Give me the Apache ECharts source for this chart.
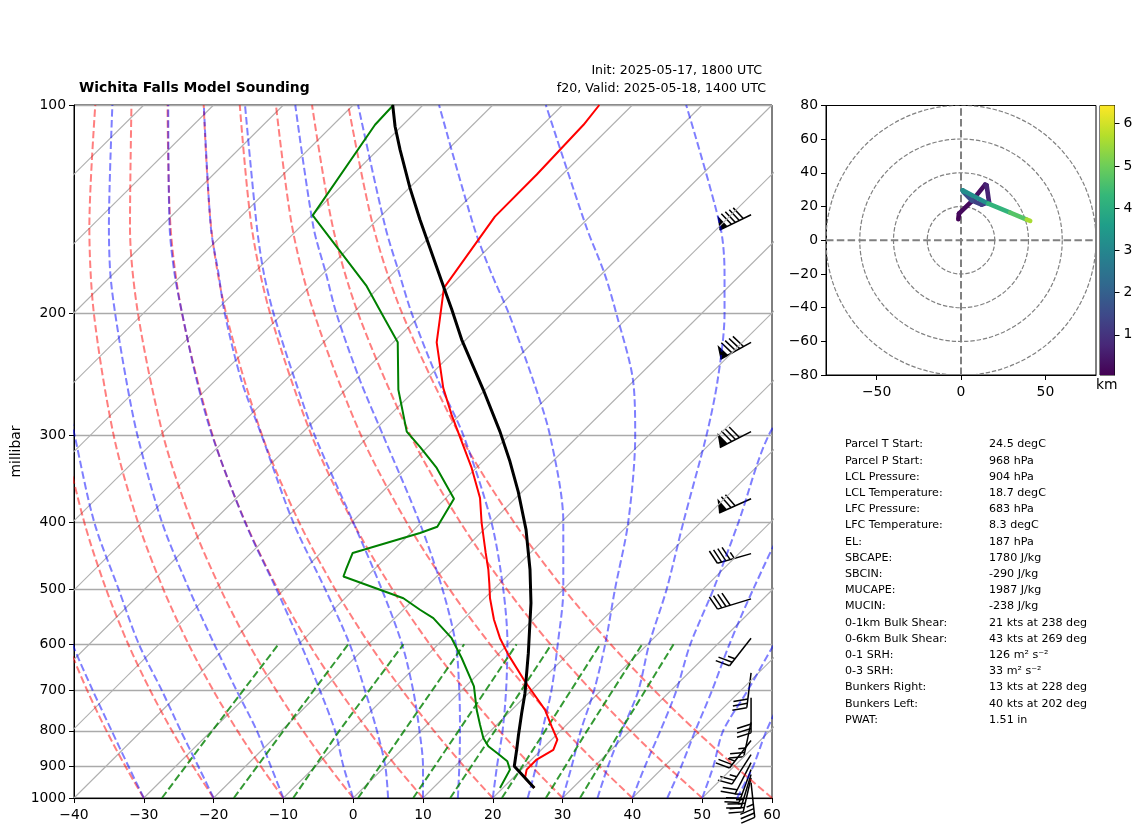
<!DOCTYPE html>
<html>
<head>
<meta charset="utf-8">
<style>html,body{margin:0;padding:0;background:#fff}#chart{width:1142px;height:838px}</style>
<script src="https://cdn.jsdelivr.net/npm/echarts@6/dist/echarts.min.js"></script>
</head>
<body>
<div id="chart"></div>
<script>
// axis ticks
const pressureTicks = [100, 200, 300, 400, 500, 600, 700, 800, 900, 1000];
const isotherms = [-130, -120, -110, -100, -90, -80, -70, -60, -50, -40, -30, -20, -10, 0, 10, 20, 30, 40, 50];

// guide curves, x position on the skewed axis at each level
const dryLevels = [1000, 900, 800, 700, 600, 500, 400, 300, 200, 150, 100];
const dryAdiabats = [
  [-30, -32.64, -35.34, -38.09, -40.87, -43.59, -46.23, -48.49, -49.77, -49.42, -47.3],
  [-20, -22.94, -25.96, -29.06, -32.23, -35.39, -38.53, -41.4, -43.46, -43.61, -42.12],
  [-10, -13.24, -16.58, -20.03, -23.59, -27.19, -30.84, -34.31, -37.15, -37.8, -36.95],
  [0, -3.53, -7.19, -11, -14.95, -18.98, -23.14, -27.22, -30.83, -31.98, -31.77],
  [10, 6.17, 2.19, -1.97, -6.31, -10.78, -15.45, -20.13, -24.52, -26.17, -26.6],
  [20, 15.87, 11.57, 7.06, 2.33, -2.58, -7.75, -13.04, -18.21, -20.36, -21.42],
  [30, 25.58, 20.95, 16.09, 10.97, 5.62, -0.05, -5.95, -11.9, -14.55, -16.25],
  [40, 35.28, 30.34, 25.12, 19.61, 13.82, 7.64, 1.14, -5.59, -8.74, -11.07],
  [50, 44.98, 39.72, 34.15, 28.25, 22.03, 15.34, 8.23, 0.72, -2.92, -5.9],
  [60, 54.69, 49.1, 43.18, 36.89, 30.23, 23.04, 15.32, 7.03, 2.89, -0.72]
];
const moistLevels = [1000, 900, 800, 700, 600, 500, 400, 300, 250, 200, 175, 150, 100];
const moistAdiabats = [
  [-30, -32.2, -34.6, -37.3, -40.2, -43],
  [-20, -22.2, -24.7, -27.4, -30.7, -33.6, -37.1, -39.9, -41.5, -43],
  [-10, -11.8, -13.8, -16.7, -19.9, -23.5, -27.4, -30.9, -32.5, -34.1, -34.8, -35, -34.5],
  [0, -1.4, -2.6, -4.75, -7.5, -11, -15.5, -20.2, -22.4, -24.5, -25.6, -26.3, -26.5],
  [5, 4.6, 3.4, 1.7, -0.5, -4, -8.6, -13.1, -16, -18.4, -19.3, -20.4, -21.4],
  [10, 10, 9.5, 8.6, 7, 4.1, 0, -5.5, -8.3, -11.4, -12.8, -13.8, -15.5],
  [15, 15.2, 15.3, 15.2, 14.7, 12.8, 9.5, 4.3, 1, -2.4, -3.9, -5.7, -8.3],
  [20, 20.6, 21.4, 21.9, 22.1, 21.5, 19.8, 15.8, 12.2, 8.4, 6.6, 4.6, 0.7],
  [25, 26.2, 27.1, 28.4, 29.3, 30.1, 30.1, 28.2, 25.8, 22.3, 19.8, 17.3, 12.3],
  [30, 31.3, 32.6, 34.5, 36.1, 37.5, 39.4, 40.4, 40.1, 37.7, 36, 33.4, 27.6],
  [35, 36.5, 38.5, 40.85, 42.4, 44.9, 47.3, 50.6, 52.2, 53.2, 53.2, 52.6, 47.7],
  [40, 41.8, 44, 46.3, 48.3, 51.6, 55.2, 59.5, 65],
  [45, 47, 49, 51.4, 53.9, 57.3, 62, 70],
  [50, 51.6, 53, 56.5, 60.3, 65],
  [55, 57.3, 59.2, 62, 66]
];
const mixLevels = [1000, 800, 600];
const mixingLines = [
  [-27.4, -20.2, -10.7],
  [-17.1, -10, -0.7],
  [-8.6, -2, 7.2],
  [0.7, 7.3, 15.9],
  [8.6, 15.1, 23.4],
  [13.9, 20.3, 28.4],
  [21.3, 27.5, 35.4],
  [27.6, 33.5, 41.4],
  [32.5, 38.3, 45.9]
];

// sounding, skewed x and pressure
const tempX = [25.95, 24.61, 24.85, 26.28, 28.67, 29.25, 28.43, 27.48, 25.81, 24.61, 22.22, 21.03, 20.17, 19.6, 19.5, 19.36, 18.98, 18.4, 18.17, 16.97, 15.06, 14.1, 12.9, 11.96, 12.4, 13, 20.3, 26.3, 33, 35.26];
const tempP = [967, 936, 910, 880, 852, 824, 788, 746, 706, 679, 621, 588, 553, 515, 490, 468, 443, 401, 369, 334, 297, 280, 256, 220, 204, 183.6, 144.9, 126, 106.8, 100];
const dewX = [21.03, 22.46, 22.08, 20.79, 19.36, 18.64, 18.17, 17.69, 17.3, 15.54, 14.1, 11.48, 9.57, 7.19, -1.4, -1.03, -0.07, 9.57, 12.05, 14.44, 11.96, 9.57, 7.67, 6.47, 6.38, 4.56, 1.93, -5.8, 3.13, 5.76];
const dewP = [967, 910, 885, 864, 842, 819, 784, 746, 690, 628, 588, 550, 535, 515, 479, 468, 443, 414.6, 406, 370, 334, 311.5, 296, 257.6, 220, 204, 182.6, 144.3, 106.8, 100];
const parcelX = [25.95, 23.08, 23.42, 23.66, 24.14, 24.61, 25.09, 25.47, 25.33, 24.76, 23.66, 22.46, 21.03, 18.64, 15.54, 14.1, 13, 9.57, 8.14, 6.71, 6, 5.66];
const parcelP = [967, 900, 852, 814, 754, 706, 618, 523, 468, 410, 362, 327, 296, 257.6, 218, 197, 183.6, 146.4, 131.8, 116, 107.4, 100];

// wind barbs
const barbP = [144, 220, 296, 370, 444, 516, 588, 660, 717, 778, 826, 866, 889, 910, 925, 935, 950];
const barbSpeed = [90, 90, 80, 70, 45, 40, 25, 30, 30, 25, 25, 25, 20, 25, 25, 25, 35];
const barbDir = [244, 241, 243, 246, 254, 253, 218, 187, 180, 192, 218, 213, 207, 200, 197, 193, 174];

// hodograph
const hodoU = [-1.6, -1.2, 6.3, 14.3, 15.2, 16.6, 12.3, 6.3, 1.4, 1, 16.2, 29.1, 39, 41];
const hodoV = [12.5, 15.8, 23.1, 33, 32.6, 22.7, 21.1, 23.7, 28.7, 29.6, 21.7, 16.4, 12.3, 11.5];
const hodoH = [0.1, 0.2, 0.3, 0.6, 0.7, 1, 1.3, 1.6, 2.6, 3.2, 4.2, 4.7, 5.6, 6.3];
const hodoRings = [20, 40, 60, 80];
const hodoXTicks = [-50, 0, 50];
const hodoYTicks = [-80, -60, -40, -20, 0, 20, 40, 60, 80];
const cbarTicks = [1, 2, 3, 4, 5, 6];

// text block
const statLabels = ['Parcel T Start:', 'Parcel P Start:', 'LCL Pressure:', 'LCL Temperature:', 'LFC Pressure:', 'LFC Temperature:', 'EL:', 'SBCAPE:', 'SBCIN:', 'MUCAPE:', 'MUCIN:', '0-1km Bulk Shear:', '0-6km Bulk Shear:', '0-1 SRH:', '0-3 SRH:', 'Bunkers Right:', 'Bunkers Left:', 'PWAT:'];
const statValues = ['24.5 degC', '968 hPa', '904 hPa', '18.7 degC', '683 hPa', '8.3 degC', '187 hPa', '1780 J/kg', '-290 J/kg', '1987 J/kg', '-238 J/kg', '21 kts at 238 deg', '43 kts at 269 deg', '126 m² s⁻²', '33 m² s⁻²', '13 kts at 228 deg', '40 kts at 202 deg', '1.51 in'];

const viridis = ['#440154', '#482878', '#3e4989', '#31688e', '#26828e', '#1f9e89', '#35b779', '#6ece58', '#b5de2b', '#fde725'];
const FONT = 'DejaVu Sans';
const minus = v => String(v).replace('-', '\u2212');

const chart = echarts.init(document.getElementById('chart'));

function lineSeries(data, color, width, dash, extra) {
  return Object.assign({
    type: 'line', xAxisIndex: 0, yAxisIndex: 0, data: data, showSymbol: false, symbol: 'none',
    silent: true, animation: false, clip: true,
    lineStyle: { color: color, width: width, type: dash || 'solid', cap: 'butt' }
  }, extra || {});
}

// barb shape follows the matplotlib proportions
function renderBarb(params, api) {
  const tip = api.coord([api.value(0), api.value(1)]);
  const speed = Math.round(api.value(2) / 5) * 5;
  const rad = api.value(3) * Math.PI / 180;
  const sx = Math.sin(rad), sy = -Math.cos(rad);
  const nx = -sy, ny = sx;
  const L = 35, h = 14, w = 8.75, gap = 4.4;
  const at = (t, o) => [tip[0] + t * sx + o * nx, tip[1] + t * sy + o * ny];
  const seg = (a, b, lw) => ({ type: 'line', shape: { x1: a[0], y1: a[1], x2: b[0], y2: b[1] }, style: { stroke: '#000', lineWidth: lw, fill: null } });
  const kids = [seg(at(0, 0), at(L, 0), 1.5)];
  let t = L;
  const flags = Math.floor(speed / 50);
  const fulls = Math.floor((speed - flags * 50) / 10);
  const half = (speed - flags * 50 - fulls * 10) >= 5;
  for (let i = 0; i < flags; i++) {
    kids.push({ type: 'polygon', shape: { points: [at(t, 0), at(t - w / 2, h), at(t - w, 0)] }, style: { fill: '#000' } });
    t -= w + gap;
  }
  for (let i = 0; i < fulls; i++) {
    kids.push(seg(at(t, 0), at(t + w / 2, h), 1.5));
    t -= gap;
  }
  if (half) kids.push(seg(at(t, 0), at(t + w / 4, h / 2), 1.5));
  return { type: 'group', children: kids };
}

const series = [];

// isobars come from the axis split lines, isotherms here
isotherms.forEach(T => series.push(lineSeries([[T, 1000], [T + 100, 100]], '#b0b0b0', 1.1)));

series.push({
  type: 'custom', xAxisIndex: 0, yAxisIndex: 0, silent: true, animation: false,
  data: barbP.map((p, i) => [57, p, barbSpeed[i], barbDir[i]]),
  encode: { x: 0, y: 1 }, renderItem: renderBarb, clip: false, z: 3
});

const DASH = [7.5, 3.3];
dryAdiabats.forEach(c => series.push(lineSeries(c.map((x, i) => [x, dryLevels[i]]), 'rgba(255,0,0,0.5)', 2, DASH, { smooth: 0.3 })));
moistAdiabats.forEach(c => series.push(lineSeries(c.map((x, i) => [x, moistLevels[i]]), 'rgba(0,0,255,0.5)', 2, DASH, { smooth: 0.3 })));
mixingLines.forEach(c => series.push(lineSeries(c.map((x, i) => [x, mixLevels[i]]), 'rgba(0,128,0,0.8)', 2, DASH)));

series.push(lineSeries(tempX.map((x, i) => [x, tempP[i]]), '#ff0000', 2));
series.push(lineSeries(dewX.map((x, i) => [x, dewP[i]]), '#008000', 2));
series.push(lineSeries(parcelX.map((x, i) => [x, parcelP[i]]), '#000000', 3));

// hodograph
hodoRings.forEach(r => series.push({
  type: 'custom', xAxisIndex: 1, yAxisIndex: 1, silent: true, animation: false, clip: true,
  data: [[0, 0, r]], encode: { x: 0, y: 1 },
  renderItem: (params, api) => {
    const c = api.coord([0, 0]);
    const rx = api.size([api.value(2), 0])[0];
    return { type: 'circle', shape: { cx: c[0], cy: c[1], r: rx }, style: { fill: null, stroke: '#808080', lineWidth: 1.2, lineDash: [4.4, 1.9] } };
  }
}));
series.push({ type: 'line', xAxisIndex: 1, yAxisIndex: 1, data: [[-80, 0], [80, 0]], showSymbol: false, symbol: 'none', silent: true, animation: false, lineStyle: { color: '#808080', width: 2, type: DASH } });
series.push({ type: 'line', xAxisIndex: 1, yAxisIndex: 1, data: [[0, -80], [0, 80]], showSymbol: false, symbol: 'none', silent: true, animation: false, lineStyle: { color: '#808080', width: 2, type: DASH } });

const hodoSeriesIndex = series.length;
series.push({
  type: 'custom', xAxisIndex: 1, yAxisIndex: 1, silent: true, animation: false, clip: true, z: 4,
  data: hodoU.map((u, i) => [u, hodoV[i], hodoH[i]]), encode: { x: 0, y: 1 },
  renderItem: (params, api) => {
    const i = params.dataIndex;
    if (i >= hodoU.length - 1) return null;
    const a = api.coord([hodoU[i], hodoV[i]]);
    const b = api.coord([hodoU[i + 1], hodoV[i + 1]]);
    return { type: 'line', shape: { x1: a[0], y1: a[1], x2: b[0], y2: b[1] }, style: { stroke: api.visual('color'), lineWidth: 4.6, lineCap: 'round', fill: null } };
  }
});

// colorbar
series.push({
  type: 'custom', xAxisIndex: 2, yAxisIndex: 2, silent: true, animation: false,
  data: [[0.5, 1]], encode: { x: 0, y: 1 },
  renderItem: params => {
    const g = params.coordSys;
    const stops = viridis.map((c, i) => ({ offset: i / (viridis.length - 1), color: c }));
    return { type: 'rect', shape: { x: g.x, y: g.y, width: g.width, height: g.height }, style: { fill: new echarts.graphic.LinearGradient(0, 1, 0, 0, stops) } };
  }
});

const tickLabel = { color: '#000', fontFamily: FONT, fontSize: 13.9 };
const yTickLabel = Object.assign({ padding: [3, 0, 0, 0] }, tickLabel);
const blackLine = { show: true, onZero: false, lineStyle: { color: '#000', width: 1 } };
const blackTick = { show: true, length: 5, lineStyle: { color: '#000', width: 1 } };

const statText = [];
statLabels.forEach((s, i) => {
  const y = 444 + 16.2 * i;
  statText.push({ type: 'text', left: 845, top: y - 5, style: { text: s, fill: '#000', font: '11.1px "DejaVu Sans"' } });
  statText.push({ type: 'text', left: 989, top: y - 5, style: { text: statValues[i], fill: '#000', font: '11.1px "DejaVu Sans"' } });
});

chart.setOption({
  animation: false,
  backgroundColor: '#fff',
  grid: [
    { left: 74, top: 105, width: 698, height: 693, show: true, borderColor: '#000', borderWidth: 1, backgroundColor: 'transparent', outerBoundsMode: 'none' },
    { left: 826, top: 105.5, width: 270, height: 269.5, show: true, borderColor: '#000', borderWidth: 1, backgroundColor: 'transparent', outerBoundsMode: 'none' },
    { left: 1100, top: 105.5, width: 14.5, height: 269.5, show: true, borderColor: '#000', borderWidth: 1, backgroundColor: 'transparent', outerBoundsMode: 'none' }
  ],
  xAxis: [
    { gridIndex: 0, type: 'value', min: -40, max: 60, interval: 10, axisLine: blackLine, axisTick: blackTick, splitLine: { show: false },
      axisLabel: Object.assign({ margin: 10, formatter: minus, showMinLabel: true, showMaxLabel: true }, tickLabel) },
    { gridIndex: 1, type: 'value', min: -80, max: 80, axisLine: blackLine, splitLine: { show: false },
      axisTick: Object.assign({ customValues: hodoXTicks }, blackTick),
      axisLabel: Object.assign({ customValues: hodoXTicks, margin: 10, formatter: minus }, tickLabel) },
    { gridIndex: 2, type: 'value', min: 0, max: 1, show: false }
  ],
  yAxis: [
    { gridIndex: 0, type: 'log', logBase: 10, min: 100, max: 1000, inverse: true,
      name: 'millibar', nameLocation: 'middle', nameGap: 51, nameRotate: 90, nameMoveOverlap: false, nameTextStyle: { color: '#000', fontFamily: FONT, fontSize: 13.9 },
      axisLine: blackLine,
      axisTick: Object.assign({ customValues: pressureTicks }, blackTick),
      axisLabel: Object.assign({ customValues: pressureTicks, margin: 8, showMinLabel: true, showMaxLabel: true, formatter: v => String(v) }, yTickLabel),
      minorTick: { show: false }, minorSplitLine: { show: false },
      splitLine: { show: true, lineStyle: { color: '#aaaaaa', width: 1.4 } } },
    { gridIndex: 1, type: 'value', min: -80, max: 80, interval: 20, axisLine: blackLine, axisTick: blackTick, splitLine: { show: false },
      axisLabel: Object.assign({ customValues: hodoYTicks, margin: 8, formatter: minus }, yTickLabel) },
    { gridIndex: 2, type: 'value', position: 'right', min: 0.05, max: 6.43, axisLine: blackLine, splitLine: { show: false },
      axisTick: Object.assign({ customValues: cbarTicks }, blackTick),
      axisLabel: Object.assign({ customValues: cbarTicks, margin: 9 }, yTickLabel) }
  ],
  visualMap: { show: false, seriesIndex: hodoSeriesIndex, dimension: 2, min: 0.05, max: 6.43, inRange: { color: viridis } },
  series: series,
  graphic: [
    { type: 'text', left: 79, top: 81, style: { text: 'Wichita Falls Model Sounding', fill: '#000', font: 'bold 13.9px "DejaVu Sans"' } },
    { type: 'text', right: 380, top: 64, style: { text: 'Init: 2025-05-17, 1800 UTC', fill: '#000', font: '12.6px "DejaVu Sans"' } },
    { type: 'text', right: 376, top: 82, style: { text: 'f20, Valid: 2025-05-18, 1400 UTC', fill: '#000', font: '12.6px "DejaVu Sans"' } },
    { type: 'text', left: 1096, top: 378, style: { text: 'km', fill: '#000', font: '13.9px "DejaVu Sans"' } }
  ].concat(statText)
});
</script>
</body>
</html>
